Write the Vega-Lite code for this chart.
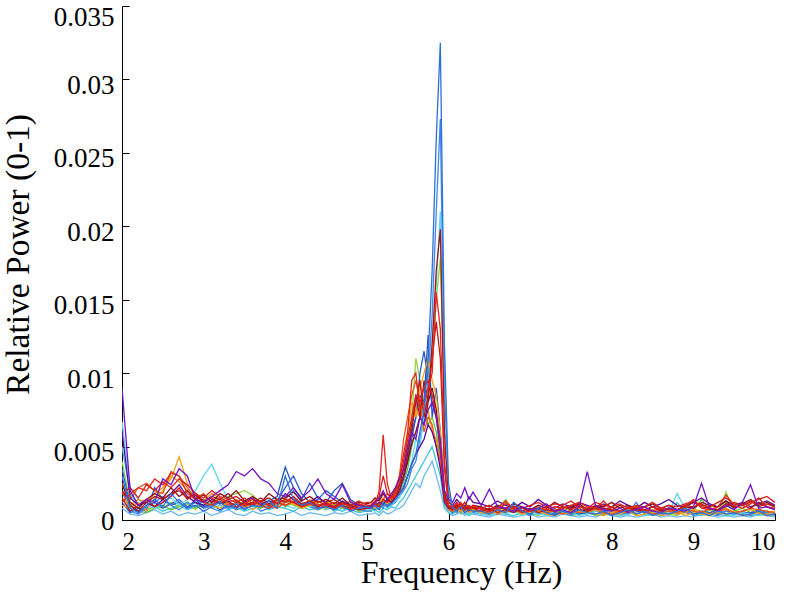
{
"$schema": "https://vega.github.io/schema/vega-lite/v6.json",
"width": 653, "height": 514,
"autosize": "none",
"padding": {"left": 122, "top": 6, "right": 18, "bottom": 72},
"background": "white",
"config": {"view": {"stroke": null}, "font": "Liberation Serif"},
"data": {"values": [
{"hz":2,"a":0.003,"b":0.002,"c":0.0067,"d":0.0025,"e":0.004,"f":0.0012,"g":0.0015,"h":0.009,"i":0.001,"j":0.0018,"k":0.0012,"n":0.0008,"o":0.002,"p":0.006,"q":0.0035,"r":0.0025,"s":0.0015,"t":0.005,"u":0.0018},
{"hz":2.1,"a":0.0008,"b":0.0006,"c":0.0022,"d":0.001,"e":0.0012,"f":0.0018,"g":0.0006,"h":0.002,"i":0.0008,"j":0.0014,"k":0.0005,"n":0.0004,"o":0.0012,"p":0.0015,"q":0.001,"r":0.0008,"s":0.001,"t":0.0018,"u":0.0022},
{"hz":2.2,"a":0.0005,"b":0.0004,"c":0.0014,"d":0.0006,"e":0.0008,"f":0.0022,"g":0.001,"h":0.001,"i":0.0012,"j":0.0022,"k":0.0008,"n":0.0003,"o":0.0008,"p":0.001,"q":0.0006,"r":0.0006,"s":0.0014,"t":0.001,"u":0.0015},
{"hz":2.3,"a":0.001,"b":0.0008,"c":0.001,"d":0.0012,"e":0.0006,"f":0.002,"g":0.0014,"h":0.0014,"i":0.0006,"j":0.0025,"k":0.0006,"n":0.0005,"o":0.0014,"p":0.0012,"q":0.0009,"r":0.0005,"s":0.0012,"t":0.0007,"u":0.0024},
{"hz":2.4,"a":0.0014,"b":0.0012,"c":0.0008,"d":0.0016,"e":0.001,"f":0.0028,"g":0.0009,"h":0.0012,"i":0.0015,"j":0.002,"k":0.0022,"n":0.0007,"o":0.0018,"p":0.0009,"q":0.0012,"r":0.0008,"s":0.0018,"t":0.0009,"u":0.002},
{"hz":2.5,"a":0.0009,"b":0.0016,"c":0.0012,"d":0.0014,"e":0.0008,"f":0.0024,"g":0.0012,"h":0.0028,"i":0.002,"j":0.0018,"k":0.0014,"n":0.0004,"o":0.0015,"p":0.0014,"q":0.0008,"r":0.001,"s":0.0022,"t":0.0006,"u":0.0026},
{"hz":2.6,"a":0.0018,"b":0.001,"c":0.0015,"d":0.0018,"e":0.0012,"f":0.0032,"g":0.0016,"h":0.0024,"i":0.0028,"j":0.0033,"k":0.001,"n":0.0006,"o":0.0022,"p":0.0018,"q":0.0011,"r":0.0007,"s":0.003,"t":0.0008,"u":0.0022},
{"hz":2.7,"a":0.0012,"b":0.0007,"c":0.001,"d":0.002,"e":0.0009,"f":0.003,"g":0.0022,"h":0.0035,"i":0.0043,"j":0.003,"k":0.0012,"n":0.0003,"o":0.0016,"p":0.0024,"q":0.0014,"r":0.0009,"s":0.0026,"t":0.001,"u":0.0028},
{"hz":2.8,"a":0.0008,"b":0.0012,"c":0.0014,"d":0.0015,"e":0.0011,"f":0.0018,"g":0.0014,"h":0.003,"i":0.0025,"j":0.0022,"k":0.0008,"n":0.0005,"o":0.002,"p":0.0016,"q":0.0009,"r":0.0012,"s":0.002,"t":0.0007,"u":0.0024},
{"hz":2.9,"a":0.001,"b":0.0009,"c":0.002,"d":0.0017,"e":0.0007,"f":0.0014,"g":0.0018,"h":0.0014,"i":0.0018,"j":0.0015,"k":0.0014,"n":0.0004,"o":0.0014,"p":0.0012,"q":0.0012,"r":0.0008,"s":0.0016,"t":0.0009,"u":0.0018},
{"hz":3,"a":0.0006,"b":0.0014,"c":0.003,"d":0.0012,"e":0.0014,"f":0.0012,"g":0.0013,"h":0.0012,"i":0.0012,"j":0.0018,"k":0.0009,"n":0.0006,"o":0.0017,"p":0.001,"q":0.0008,"r":0.001,"s":0.0013,"t":0.0011,"u":0.0015},
{"hz":3.1,"a":0.0009,"b":0.0008,"c":0.0038,"d":0.0016,"e":0.001,"f":0.001,"g":0.0015,"h":0.0016,"i":0.001,"j":0.0012,"k":0.0011,"n":0.0003,"o":0.0012,"p":0.0014,"q":0.001,"r":0.0012,"s":0.0018,"t":0.0008,"u":0.002},
{"hz":3.2,"a":0.0012,"b":0.0006,"c":0.0025,"d":0.0014,"e":0.0012,"f":0.0015,"g":0.0011,"h":0.002,"i":0.0008,"j":0.0014,"k":0.0007,"n":0.0005,"o":0.0018,"p":0.0011,"q":0.0013,"r":0.0015,"s":0.0015,"t":0.001,"u":0.0016},
{"hz":3.3,"a":0.0008,"b":0.001,"c":0.0014,"d":0.0018,"e":0.0016,"f":0.0012,"g":0.0014,"h":0.0024,"i":0.0012,"j":0.001,"k":0.001,"n":0.0007,"o":0.0015,"p":0.0013,"q":0.0009,"r":0.0011,"s":0.0012,"t":0.0007,"u":0.0014},
{"hz":3.4,"a":0.0011,"b":0.0007,"c":0.0012,"d":0.0013,"e":0.0018,"f":0.0009,"g":0.0016,"h":0.0033,"i":0.0009,"j":0.0012,"k":0.0008,"n":0.0004,"o":0.002,"p":0.0009,"q":0.0011,"r":0.0009,"s":0.0014,"t":0.0009,"u":0.0012},
{"hz":3.5,"a":0.0007,"b":0.0009,"c":0.001,"d":0.001,"e":0.002,"f":0.0011,"g":0.0012,"h":0.003,"i":0.0011,"j":0.0009,"k":0.0012,"n":0.0003,"o":0.0013,"p":0.0012,"q":0.0008,"r":0.0013,"s":0.001,"t":0.0006,"u":0.0015},
{"hz":3.6,"a":0.001,"b":0.0012,"c":0.0009,"d":0.0012,"e":0.0017,"f":0.0014,"g":0.001,"h":0.0035,"i":0.0007,"j":0.0011,"k":0.0009,"n":0.0006,"o":0.0016,"p":0.0015,"q":0.001,"r":0.001,"s":0.0012,"t":0.0008,"u":0.0011},
{"hz":3.7,"a":0.0009,"b":0.0006,"c":0.0012,"d":0.0015,"e":0.0012,"f":0.001,"g":0.0013,"h":0.0028,"i":0.001,"j":0.0013,"k":0.0011,"n":0.0004,"o":0.0012,"p":0.001,"q":0.0012,"r":0.0008,"s":0.0009,"t":0.001,"u":0.0013},
{"hz":3.8,"a":0.0013,"b":0.0008,"c":0.0014,"d":0.0011,"e":0.0009,"f":0.0008,"g":0.0015,"h":0.0025,"i":0.0013,"j":0.001,"k":0.0013,"n":0.0005,"o":0.0018,"p":0.0013,"q":0.0009,"r":0.0011,"s":0.0011,"t":0.0007,"u":0.001},
{"hz":3.9,"a":0.0008,"b":0.001,"c":0.0011,"d":0.0014,"e":0.0011,"f":0.0012,"g":0.0011,"h":0.0018,"i":0.0009,"j":0.0008,"k":0.0016,"n":0.0003,"o":0.0014,"p":0.0011,"q":0.0013,"r":0.0014,"s":0.0013,"t":0.0009,"u":0.0014},
{"hz":4,"a":0.003,"b":0.0014,"c":0.001,"d":0.0012,"e":0.0013,"f":0.001,"g":0.0014,"h":0.0016,"i":0.0015,"j":0.0012,"k":0.0036,"n":0.0004,"o":0.0015,"p":0.0018,"q":0.0022,"r":0.0009,"s":0.001,"t":0.0008,"u":0.0012},
{"hz":4.1,"a":0.0014,"b":0.002,"c":0.0008,"d":0.0016,"e":0.001,"f":0.0013,"g":0.0012,"h":0.0022,"i":0.0011,"j":0.0014,"k":0.0022,"n":0.0006,"o":0.0019,"p":0.0014,"q":0.003,"r":0.0012,"s":0.0012,"t":0.0006,"u":0.0016},
{"hz":4.2,"a":0.001,"b":0.0012,"c":0.0012,"d":0.001,"e":0.0008,"f":0.0009,"g":0.0009,"h":0.0015,"i":0.0008,"j":0.001,"k":0.0014,"n":0.0003,"o":0.0013,"p":0.001,"q":0.0018,"r":0.0008,"s":0.0009,"t":0.0009,"u":0.0011},
{"hz":4.3,"a":0.0012,"b":0.0009,"c":0.0009,"d":0.0013,"e":0.0012,"f":0.0011,"g":0.0011,"h":0.002,"i":0.001,"j":0.0012,"k":0.0025,"n":0.0005,"o":0.0016,"p":0.0012,"q":0.0012,"r":0.001,"s":0.0014,"t":0.0007,"u":0.0013},
{"hz":4.4,"a":0.0008,"b":0.0007,"c":0.0011,"d":0.0009,"e":0.0009,"f":0.0008,"g":0.0013,"h":0.0028,"i":0.0012,"j":0.0009,"k":0.0015,"n":0.0004,"o":0.0012,"p":0.0016,"q":0.0014,"r":0.0007,"s":0.0011,"t":0.0008,"u":0.001},
{"hz":4.5,"a":0.0009,"b":0.0011,"c":0.0007,"d":0.0012,"e":0.0007,"f":0.001,"g":0.001,"h":0.0018,"i":0.0014,"j":0.0011,"k":0.0012,"n":0.0003,"o":0.0014,"p":0.0011,"q":0.002,"r":0.0009,"s":0.0008,"t":0.001,"u":0.0012},
{"hz":4.6,"a":0.0007,"b":0.0008,"c":0.0009,"d":0.0014,"e":0.001,"f":0.0012,"g":0.0008,"h":0.0014,"i":0.0009,"j":0.0008,"k":0.002,"n":0.0005,"o":0.0011,"p":0.0009,"q":0.0016,"r":0.0011,"s":0.001,"t":0.0006,"u":0.0009},
{"hz":4.7,"a":0.001,"b":0.0006,"c":0.0006,"d":0.001,"e":0.0008,"f":0.0009,"g":0.0012,"h":0.0024,"i":0.0011,"j":0.001,"k":0.0025,"n":0.0004,"o":0.0015,"p":0.0013,"q":0.0012,"r":0.0008,"s":0.0012,"t":0.0008,"u":0.0011},
{"hz":4.8,"a":0.0006,"b":0.001,"c":0.0008,"d":0.0008,"e":0.0011,"f":0.0007,"g":0.0009,"h":0.0012,"i":0.0007,"j":0.0013,"k":0.0014,"n":0.0006,"o":0.001,"p":0.001,"q":0.0009,"r":0.001,"s":0.0009,"t":0.0007,"u":0.001},
{"hz":4.9,"a":0.0008,"b":0.0007,"c":0.001,"d":0.0011,"e":0.0006,"f":0.001,"g":0.0007,"h":0.001,"i":0.0008,"j":0.0009,"k":0.001,"n":0.0003,"o":0.0012,"p":0.0008,"q":0.001,"r":0.0006,"s":0.0011,"t":0.0005,"u":0.0013},
{"hz":5,"a":0.0009,"b":0.0006,"c":0.0007,"d":0.0009,"e":0.0007,"f":0.0012,"g":0.0008,"h":0.0009,"i":0.001,"j":0.0008,"k":0.0009,"n":0.0004,"o":0.0011,"p":0.0009,"q":0.0008,"r":0.0007,"s":0.0008,"t":0.0006,"u":0.001},
{"hz":5.05,"a":0.0008,"b":0.0006,"c":0.0007,"d":0.0009,"e":0.0006,"f":0.0012,"g":0.0008,"h":0.0009,"i":0.001,"j":0.0008,"k":0.0009,"n":0.0004,"o":0.0012,"p":0.0009,"q":0.0009,"r":0.0007,"s":0.0009,"t":0.0006,"u":0.001},
{"hz":5.1,"a":0.001,"b":0.0009,"c":0.0006,"d":0.0012,"e":0.0008,"f":0.001,"g":0.0011,"h":0.0012,"i":0.0008,"j":0.0012,"k":0.0007,"n":0.0005,"o":0.0015,"p":0.001,"q":0.0011,"r":0.0009,"s":0.0011,"t":0.0007,"u":0.0013},
{"hz":5.15,"a":0.0007,"b":0.0011,"c":0.0009,"d":0.0014,"e":0.0007,"f":0.002,"g":0.0009,"h":0.0015,"i":0.0012,"j":0.001,"k":0.0012,"n":0.0003,"o":0.0013,"p":0.0012,"q":0.0008,"r":0.0008,"s":0.001,"t":0.0005,"u":0.0016},
{"hz":5.2,"a":0.0012,"b":0.0008,"c":0.0012,"d":0.0018,"e":0.001,"f":0.0058,"g":0.0014,"h":0.002,"i":0.0015,"j":0.0014,"k":0.001,"n":0.0006,"o":0.0018,"p":0.0011,"q":0.0012,"r":0.0011,"s":0.0013,"t":0.0008,"u":0.003},
{"hz":5.25,"a":0.0009,"b":0.0014,"c":0.0008,"d":0.0015,"e":0.0009,"f":0.0025,"g":0.0012,"h":0.0014,"i":0.0011,"j":0.0018,"k":0.0014,"n":0.0004,"o":0.0014,"p":0.0014,"q":0.001,"r":0.001,"s":0.0012,"t":0.0007,"u":0.0018},
{"hz":5.3,"a":0.0011,"b":0.001,"c":0.001,"d":0.0012,"e":0.0012,"f":0.0014,"g":0.0016,"h":0.0018,"i":0.0014,"j":0.0016,"k":0.0011,"n":0.0005,"o":0.0016,"p":0.0012,"q":0.0013,"r":0.0012,"s":0.0014,"t":0.0009,"u":0.0015},
{"hz":5.35,"a":0.0014,"b":0.0012,"c":0.0013,"d":0.0016,"e":0.0014,"f":0.0018,"g":0.0015,"h":0.0022,"i":0.0018,"j":0.0022,"k":0.0016,"n":0.0007,"o":0.002,"p":0.0015,"q":0.0015,"r":0.0014,"s":0.0017,"t":0.0008,"u":0.002},
{"hz":5.4,"a":0.0018,"b":0.0016,"c":0.0015,"d":0.002,"e":0.0022,"f":0.003,"g":0.0024,"h":0.0028,"i":0.0025,"j":0.003,"k":0.002,"n":0.0008,"o":0.0024,"p":0.0018,"q":0.002,"r":0.0018,"s":0.0024,"t":0.0012,"u":0.0028},
{"hz":5.45,"a":0.0022,"b":0.002,"c":0.0024,"d":0.003,"e":0.0028,"f":0.0045,"g":0.0035,"h":0.0035,"i":0.004,"j":0.0055,"k":0.003,"n":0.001,"o":0.003,"p":0.0022,"q":0.0028,"r":0.0025,"s":0.0035,"t":0.0015,"u":0.004},
{"hz":5.5,"a":0.003,"b":0.0025,"c":0.003,"d":0.0045,"e":0.004,"f":0.006,"g":0.005,"h":0.005,"i":0.006,"j":0.007,"k":0.0045,"n":0.0015,"o":0.004,"p":0.003,"q":0.004,"r":0.0035,"s":0.005,"t":0.002,"u":0.0055},
{"hz":5.55,"a":0.0038,"b":0.0035,"c":0.004,"d":0.006,"e":0.007,"f":0.0095,"g":0.0065,"h":0.006,"i":0.008,"j":0.0085,"k":0.006,"n":0.002,"o":0.0052,"p":0.0038,"q":0.0055,"r":0.005,"s":0.0065,"t":0.0025,"u":0.007},
{"hz":5.6,"a":0.0045,"b":0.004,"c":0.0055,"d":0.0085,"e":0.011,"f":0.01,"g":0.008,"h":0.0055,"i":0.007,"j":0.0095,"k":0.007,"n":0.0025,"o":0.006,"p":0.0045,"q":0.007,"r":0.006,"s":0.0075,"t":0.003,"u":0.0085},
{"hz":5.65,"a":0.006,"b":0.0055,"c":0.005,"d":0.007,"e":0.0095,"f":0.0075,"g":0.0095,"h":0.007,"i":0.009,"j":0.008,"k":0.0085,"n":0.0022,"o":0.007,"p":0.005,"q":0.01,"r":0.007,"s":0.007,"t":0.0035,"u":0.008},
{"hz":5.7,"a":0.0075,"b":0.007,"c":0.007,"d":0.0095,"e":0.008,"f":0.008,"g":0.007,"h":0.0065,"i":0.01,"j":0.006,"k":0.008,"n":0.003,"o":0.0065,"p":0.0055,"q":0.0115,"r":0.0075,"s":0.008,"t":0.004,"u":0.009},
{"hz":5.75,"a":0.011,"b":0.0095,"c":0.009,"d":0.008,"e":0.009,"f":0.009,"g":0.0085,"h":0.0075,"i":0.011,"j":0.007,"k":0.0126,"n":0.0035,"o":0.008,"p":0.0065,"q":0.0095,"r":0.0065,"s":0.0075,"t":0.0045,"u":0.0095},
{"hz":5.8,"a":0.017,"b":0.014,"c":0.012,"d":0.012,"e":0.011,"f":0.01,"g":0.011,"h":0.008,"i":0.0095,"j":0.0065,"k":0.007,"n":0.004,"o":0.009,"p":0.006,"q":0.008,"r":0.007,"s":0.006,"t":0.005,"u":0.0085},
{"hz":5.85,"a":0.026,"b":0.021,"c":0.016,"d":0.017,"e":0.015,"f":0.0155,"g":0.0135,"h":0.007,"i":0.0085,"j":0.005,"k":0.009,"n":0.003,"o":0.0075,"p":0.005,"q":0.007,"r":0.006,"s":0.0055,"t":0.004,"u":0.007},
{"hz":5.9,"a":0.0325,"b":0.0273,"c":0.021,"d":0.0198,"e":0.0178,"f":0.013,"g":0.011,"h":0.0055,"i":0.006,"j":0.004,"k":0.006,"n":0.002,"o":0.005,"p":0.0035,"q":0.0045,"r":0.004,"s":0.004,"t":0.003,"u":0.005},
{"hz":5.95,"a":0.012,"b":0.009,"c":0.007,"d":0.006,"e":0.008,"f":0.004,"g":0.0035,"h":0.002,"i":0.002,"j":0.0015,"k":0.002,"n":0.0008,"o":0.0018,"p":0.0012,"q":0.0015,"r":0.0014,"s":0.0012,"t":0.001,"u":0.0015},
{"hz":6,"a":0.0025,"b":0.0018,"c":0.0015,"d":0.0012,"e":0.002,"f":0.001,"g":0.001,"h":0.0014,"i":0.0009,"j":0.0008,"k":0.0008,"n":0.0005,"o":0.0009,"p":0.0008,"q":0.0007,"r":0.0008,"s":0.0007,"t":0.0005,"u":0.0009},
{"hz":6.05,"a":0.0008,"b":0.0007,"c":0.0006,"d":0.001,"e":0.0008,"f":0.0009,"g":0.0008,"h":0.0012,"i":0.0007,"j":0.0006,"k":0.0006,"n":0.0003,"o":0.0007,"p":0.001,"q":0.0005,"r":0.0006,"s":0.0006,"t":0.0004,"u":0.0008},
{"hz":6.1,"a":0.0006,"b":0.0005,"c":0.0008,"d":0.0008,"e":0.0006,"f":0.0007,"g":0.0012,"h":0.0018,"i":0.001,"j":0.0009,"k":0.0007,"n":0.0004,"o":0.001,"p":0.0014,"q":0.0008,"r":0.0009,"s":0.0008,"t":0.0006,"u":0.0011},
{"hz":6.15,"a":0.0009,"b":0.0008,"c":0.0005,"d":0.0011,"e":0.001,"f":0.0012,"g":0.0009,"h":0.0015,"i":0.0006,"j":0.0007,"k":0.0009,"n":0.0006,"o":0.0008,"p":0.0011,"q":0.0006,"r":0.0007,"s":0.0005,"t":0.0004,"u":0.0009},
{"hz":6.2,"a":0.0005,"b":0.0006,"c":0.0007,"d":0.0007,"e":0.0005,"f":0.0008,"g":0.0007,"h":0.0022,"i":0.0008,"j":0.001,"k":0.0005,"n":0.0003,"o":0.0009,"p":0.0009,"q":0.0007,"r":0.0012,"s":0.0007,"t":0.0005,"u":0.0012},
{"hz":6.25,"a":0.0007,"b":0.0009,"c":0.0004,"d":0.0009,"e":0.0007,"f":0.0006,"g":0.001,"h":0.0014,"i":0.0005,"j":0.0008,"k":0.0008,"n":0.0005,"o":0.0007,"p":0.0016,"q":0.0005,"r":0.0008,"s":0.0006,"t":0.0003,"u":0.0008},
{"hz":6.3,"a":0.0006,"b":0.0005,"c":0.0006,"d":0.0008,"e":0.0009,"f":0.001,"g":0.0008,"h":0.0019,"i":0.0007,"j":0.0006,"k":0.0006,"n":0.0004,"o":0.001,"p":0.0012,"q":0.0006,"r":0.0006,"s":0.0008,"t":0.0005,"u":0.0009},
{"hz":6.4,"a":0.0006,"b":0.0005,"c":0.0004,"d":0.0008,"e":0.0005,"f":0.0007,"g":0.0006,"h":0.001,"i":0.0005,"j":0.0006,"k":0.0005,"n":0.0003,"o":0.0009,"p":0.0011,"q":0.0005,"r":0.0006,"s":0.0005,"t":0.0004,"u":0.0008},
{"hz":6.5,"a":0.0004,"b":0.0007,"c":0.0003,"d":0.0006,"e":0.0006,"f":0.0006,"g":0.0008,"h":0.0021,"i":0.0004,"j":0.0005,"k":0.0004,"n":0.0002,"o":0.0007,"p":0.0009,"q":0.0006,"r":0.0008,"s":0.0007,"t":0.0003,"u":0.001},
{"hz":6.6,"a":0.0007,"b":0.0004,"c":0.0005,"d":0.0009,"e":0.0008,"f":0.0008,"g":0.0005,"h":0.0009,"i":0.0006,"j":0.0007,"k":0.0006,"n":0.0004,"o":0.001,"p":0.0013,"q":0.0004,"r":0.0005,"s":0.0004,"t":0.0005,"u":0.0007},
{"hz":6.7,"a":0.0005,"b":0.0006,"c":0.0004,"d":0.0007,"e":0.0014,"f":0.0013,"g":0.0007,"h":0.0008,"i":0.0005,"j":0.0006,"k":0.0005,"n":0.0003,"o":0.0008,"p":0.001,"q":0.0007,"r":0.0012,"s":0.0006,"t":0.0004,"u":0.0011},
{"hz":6.8,"a":0.0012,"b":0.001,"c":0.0006,"d":0.0005,"e":0.0006,"f":0.0007,"g":0.0009,"h":0.0006,"i":0.0007,"j":0.0008,"k":0.0012,"n":0.0002,"o":0.0011,"p":0.0008,"q":0.0005,"r":0.0007,"s":0.0008,"t":0.0003,"u":0.0009},
{"hz":6.9,"a":0.0006,"b":0.0005,"c":0.0003,"d":0.0008,"e":0.0004,"f":0.0005,"g":0.0006,"h":0.0009,"i":0.0004,"j":0.0005,"k":0.0006,"n":0.0003,"o":0.0009,"p":0.0012,"q":0.0008,"r":0.0005,"s":0.0005,"t":0.0005,"u":0.0008},
{"hz":7,"a":0.0004,"b":0.0003,"c":0.0005,"d":0.0006,"e":0.0005,"f":0.0006,"g":0.0008,"h":0.0007,"i":0.0005,"j":0.0006,"k":0.0004,"n":0.0004,"o":0.0007,"p":0.0009,"q":0.0006,"r":0.0006,"s":0.0006,"t":0.0004,"u":0.001},
{"hz":7.1,"a":0.0008,"b":0.0006,"c":0.0004,"d":0.0007,"e":0.0003,"f":0.0008,"g":0.0005,"h":0.0008,"i":0.0006,"j":0.0007,"k":0.0005,"n":0.0002,"o":0.001,"p":0.0014,"q":0.0004,"r":0.0008,"s":0.0009,"t":0.0006,"u":0.0012},
{"hz":7.2,"a":0.0005,"b":0.0004,"c":0.0003,"d":0.0009,"e":0.0006,"f":0.0007,"g":0.0007,"h":0.0011,"i":0.0004,"j":0.0005,"k":0.0007,"n":0.0003,"o":0.0008,"p":0.001,"q":0.0007,"r":0.0005,"s":0.0005,"t":0.0003,"u":0.0009},
{"hz":7.3,"a":0.0003,"b":0.0007,"c":0.0006,"d":0.0006,"e":0.0004,"f":0.0009,"g":0.0006,"h":0.0006,"i":0.0003,"j":0.0006,"k":0.0004,"n":0.0002,"o":0.0012,"p":0.0008,"q":0.0005,"r":0.0007,"s":0.0007,"t":0.0004,"u":0.0011},
{"hz":7.4,"a":0.0006,"b":0.0005,"c":0.0004,"d":0.0008,"e":0.0005,"f":0.0008,"g":0.0009,"h":0.0007,"i":0.0005,"j":0.0004,"k":0.0005,"n":0.0004,"o":0.0009,"p":0.0011,"q":0.0006,"r":0.0006,"s":0.0004,"t":0.0005,"u":0.001},
{"hz":7.5,"a":0.0004,"b":0.0003,"c":0.0005,"d":0.001,"e":0.0003,"f":0.001,"g":0.0007,"h":0.0005,"i":0.0004,"j":0.0007,"k":0.0006,"n":0.0003,"o":0.0008,"p":0.0009,"q":0.0004,"r":0.0009,"s":0.0006,"t":0.0003,"u":0.0013},
{"hz":7.6,"a":0.0007,"b":0.0006,"c":0.0003,"d":0.0007,"e":0.0004,"f":0.0012,"g":0.001,"h":0.0009,"i":0.0006,"j":0.0005,"k":0.0004,"n":0.0002,"o":0.0011,"p":0.0012,"q":0.0008,"r":0.0005,"s":0.0008,"t":0.0004,"u":0.0009},
{"hz":7.7,"a":0.0005,"b":0.0008,"c":0.0004,"d":0.0006,"e":0.0006,"f":0.0009,"g":0.0006,"h":0.0033,"i":0.0005,"j":0.0006,"k":0.0005,"n":0.0003,"o":0.0007,"p":0.001,"q":0.0005,"r":0.0006,"s":0.0005,"t":0.0005,"u":0.0008},
{"hz":7.8,"a":0.0004,"b":0.0004,"c":0.0006,"d":0.0009,"e":0.0003,"f":0.0008,"g":0.0008,"h":0.001,"i":0.0004,"j":0.0008,"k":0.0007,"n":0.0002,"o":0.001,"p":0.0008,"q":0.0006,"r":0.0008,"s":0.0007,"t":0.0003,"u":0.0012},
{"hz":7.9,"a":0.0006,"b":0.0005,"c":0.0008,"d":0.0008,"e":0.0005,"f":0.0013,"g":0.0007,"h":0.0007,"i":0.0003,"j":0.0005,"k":0.0004,"n":0.0004,"o":0.0009,"p":0.0011,"q":0.0007,"r":0.0005,"s":0.0004,"t":0.0004,"u":0.001},
{"hz":8,"a":0.0003,"b":0.0006,"c":0.0005,"d":0.0007,"e":0.0004,"f":0.0007,"g":0.0009,"h":0.0006,"i":0.0005,"j":0.0004,"k":0.0006,"n":0.0003,"o":0.0012,"p":0.0009,"q":0.0004,"r":0.0007,"s":0.0006,"t":0.0006,"u":0.0009},
{"hz":8.1,"a":0.0005,"b":0.0003,"c":0.0003,"d":0.001,"e":0.0003,"f":0.0006,"g":0.0006,"h":0.0008,"i":0.0004,"j":0.0006,"k":0.0005,"n":0.0002,"o":0.0008,"p":0.0013,"q":0.0005,"r":0.0006,"s":0.0005,"t":0.0003,"u":0.0011},
{"hz":8.2,"a":0.0007,"b":0.0005,"c":0.0004,"d":0.0006,"e":0.0005,"f":0.0008,"g":0.0008,"h":0.0005,"i":0.0006,"j":0.0005,"k":0.0004,"n":0.0003,"o":0.001,"p":0.001,"q":0.0009,"r":0.0005,"s":0.0008,"t":0.0004,"u":0.0008},
{"hz":8.3,"a":0.0004,"b":0.0012,"c":0.0005,"d":0.0008,"e":0.0004,"f":0.0009,"g":0.0007,"h":0.0007,"i":0.0003,"j":0.0007,"k":0.0007,"n":0.0002,"o":0.0007,"p":0.0008,"q":0.0006,"r":0.0008,"s":0.0004,"t":0.0005,"u":0.001},
{"hz":8.4,"a":0.0006,"b":0.0004,"c":0.0003,"d":0.0007,"e":0.0006,"f":0.0007,"g":0.0006,"h":0.0009,"i":0.0004,"j":0.0006,"k":0.0005,"n":0.0003,"o":0.0009,"p":0.0012,"q":0.0005,"r":0.0006,"s":0.0006,"t":0.0003,"u":0.0009},
{"hz":8.5,"a":0.0003,"b":0.0006,"c":0.0004,"d":0.0009,"e":0.0003,"f":0.0006,"g":0.0009,"h":0.0006,"i":0.0005,"j":0.0004,"k":0.0004,"n":0.0004,"o":0.0011,"p":0.0009,"q":0.0007,"r":0.0005,"s":0.0007,"t":0.0004,"u":0.0012},
{"hz":8.6,"a":0.0005,"b":0.0003,"c":0.0006,"d":0.0006,"e":0.0005,"f":0.0008,"g":0.0007,"h":0.0005,"i":0.0003,"j":0.0005,"k":0.0006,"n":0.0002,"o":0.0008,"p":0.0011,"q":0.0004,"r":0.0007,"s":0.0005,"t":0.0003,"u":0.0008},
{"hz":8.7,"a":0.0004,"b":0.0005,"c":0.0005,"d":0.0008,"e":0.0004,"f":0.0007,"g":0.0008,"h":0.0008,"i":0.0004,"j":0.0006,"k":0.0005,"n":0.0003,"o":0.001,"p":0.0014,"q":0.0006,"r":0.0006,"s":0.0006,"t":0.0005,"u":0.001},
{"hz":8.8,"a":0.0006,"b":0.0004,"c":0.0018,"d":0.0007,"e":0.0003,"f":0.0006,"g":0.0006,"h":0.0007,"i":0.0006,"j":0.0005,"k":0.0007,"n":0.0002,"o":0.0007,"p":0.001,"q":0.0005,"r":0.0005,"s":0.0004,"t":0.0012,"u":0.0009},
{"hz":8.9,"a":0.0008,"b":0.0007,"c":0.0008,"d":0.001,"e":0.0006,"f":0.0009,"g":0.001,"h":0.0006,"i":0.0003,"j":0.0007,"k":0.0005,"n":0.0003,"o":0.0009,"p":0.0009,"q":0.0008,"r":0.0008,"s":0.0005,"t":0.0006,"u":0.0011},
{"hz":9,"a":0.0004,"b":0.0003,"c":0.0004,"d":0.0012,"e":0.0004,"f":0.0014,"g":0.0009,"h":0.0009,"i":0.0005,"j":0.0006,"k":0.0004,"n":0.0002,"o":0.0008,"p":0.0012,"q":0.0004,"r":0.0006,"s":0.0007,"t":0.0004,"u":0.0013},
{"hz":9.1,"a":0.0005,"b":0.0005,"c":0.0005,"d":0.0009,"e":0.0005,"f":0.0008,"g":0.0011,"h":0.0025,"i":0.0004,"j":0.0005,"k":0.0006,"n":0.0004,"o":0.0012,"p":0.0015,"q":0.0006,"r":0.0014,"s":0.0006,"t":0.0003,"u":0.001},
{"hz":9.2,"a":0.0003,"b":0.0004,"c":0.0003,"d":0.0008,"e":0.0007,"f":0.0007,"g":0.0008,"h":0.0008,"i":0.0003,"j":0.0008,"k":0.0005,"n":0.0003,"o":0.001,"p":0.0011,"q":0.0005,"r":0.0007,"s":0.0004,"t":0.0005,"u":0.0009},
{"hz":9.3,"a":0.0006,"b":0.0003,"c":0.0006,"d":0.0007,"e":0.0004,"f":0.0009,"g":0.0007,"h":0.0006,"i":0.0005,"j":0.0006,"k":0.0004,"n":0.0002,"o":0.0009,"p":0.0009,"q":0.0007,"r":0.0005,"s":0.0006,"t":0.0004,"u":0.0012},
{"hz":9.4,"a":0.0004,"b":0.0006,"c":0.0004,"d":0.0011,"e":0.0019,"f":0.0017,"g":0.0009,"h":0.001,"i":0.0004,"j":0.0007,"k":0.0006,"n":0.0003,"o":0.0013,"p":0.0013,"q":0.0004,"r":0.0012,"s":0.0008,"t":0.0003,"u":0.0015},
{"hz":9.5,"a":0.0005,"b":0.0004,"c":0.0003,"d":0.0009,"e":0.0006,"f":0.001,"g":0.0012,"h":0.0007,"i":0.0006,"j":0.0005,"k":0.0005,"n":0.0002,"o":0.0008,"p":0.001,"q":0.0005,"r":0.0006,"s":0.0005,"t":0.0004,"u":0.0011},
{"hz":9.6,"a":0.0003,"b":0.0005,"c":0.0005,"d":0.001,"e":0.0004,"f":0.0008,"g":0.001,"h":0.0012,"i":0.0003,"j":0.0006,"k":0.0004,"n":0.0003,"o":0.0011,"p":0.0012,"q":0.0006,"r":0.0008,"s":0.0006,"t":0.0005,"u":0.001},
{"hz":9.7,"a":0.0004,"b":0.0003,"c":0.0004,"d":0.0008,"e":0.0005,"f":0.0011,"g":0.0013,"h":0.0024,"i":0.0004,"j":0.0008,"k":0.0005,"n":0.0002,"o":0.0014,"p":0.0009,"q":0.0004,"r":0.0005,"s":0.0007,"t":0.0003,"u":0.0012},
{"hz":9.8,"a":0.0006,"b":0.0004,"c":0.0003,"d":0.0012,"e":0.0003,"f":0.0015,"g":0.0009,"h":0.0008,"i":0.0005,"j":0.0007,"k":0.0006,"n":0.0004,"o":0.001,"p":0.0011,"q":0.0007,"r":0.0007,"s":0.0005,"t":0.0004,"u":0.0014},
{"hz":9.9,"a":0.0003,"b":0.0005,"c":0.0004,"d":0.0009,"e":0.0006,"f":0.0009,"g":0.0011,"h":0.0009,"i":0.0003,"j":0.0006,"k":0.0004,"n":0.0003,"o":0.0012,"p":0.0013,"q":0.0005,"r":0.0006,"s":0.0004,"t":0.0003,"u":0.0016},
{"hz":10,"a":0.0004,"b":0.0003,"c":0.0005,"d":0.0007,"e":0.0004,"f":0.0008,"g":0.0009,"h":0.0007,"i":0.0004,"j":0.0005,"k":0.0005,"n":0.0002,"o":0.0009,"p":0.001,"q":0.0004,"r":0.0005,"s":0.0006,"t":0.0004,"u":0.0012}
]},
"transform": [{"fold": ["n","t","r","e","q","k","b","c","s","i","j","p","o","d","g","u","f","h","a"], "as": ["series", "power"]}],
"mark": {"type": "line", "strokeWidth": 1.3, "clip": true},
"encoding": {
  "x": {"field": "hz", "type": "quantitative",
        "scale": {"domain": [2, 10], "nice": false, "zero": false},
        "axis": {"title": "Frequency (Hz)", "values": [2,3,4,5,6,7,8,9,10], "format": "d",
                 "grid": false, "domainColor": "black", "tickColor": "black", "tickSize": -7,
                 "labelFont": "Liberation Serif", "labelFontSize": 25, "labelColor": "black", "labelPadding": 16,
                 "titleFont": "Liberation Serif", "titleFontSize": 32, "titleFontWeight": "normal", "titleColor": "black", "titlePadding": 3, "titleX": 339}},
  "y": {"field": "power", "type": "quantitative",
        "scale": {"domain": [0, 0.035], "nice": false},
        "axis": {"title": "Relative Power (0-1)", "values": [0,0.005,0.01,0.015,0.02,0.025,0.03,0.035], "format": "~g",
                 "grid": false, "domainColor": "black", "tickColor": "black", "tickSize": -7,
                 "labelFont": "Liberation Serif", "labelFontSize": 27, "labelColor": "black", "labelPadding": 15,
                 "labelOffset": {"condition": [{"test": "datum.value > 0.034", "value": 11}, {"test": "datum.value < 0.004", "value": 1}], "value": 6},
                 "titleFont": "Liberation Serif", "titleFontSize": 33.5, "titleFontWeight": "normal", "titleColor": "black", "titlePadding": 18, "titleY": 248}},
  "color": {"field": "series", "type": "nominal", "legend": null,
            "scale": {"domain": ["n","t","r","e","q","k","b","c","s","i","j","p","o","d","g","u","f","h","a"],
                      "range": ["#6bb8f0","#40c8d8","#5cc43a","#8ed63a","#2a5fd0","#1f55c4","#3f87e6","#5fd8f2","#f08c10","#f2a516","#e8561a","#5c0a9e","#8b0a14","#a3121c","#c41616","#d81e1e","#e3261b","#7414c8","#2d6fd8"]}}
}
}
